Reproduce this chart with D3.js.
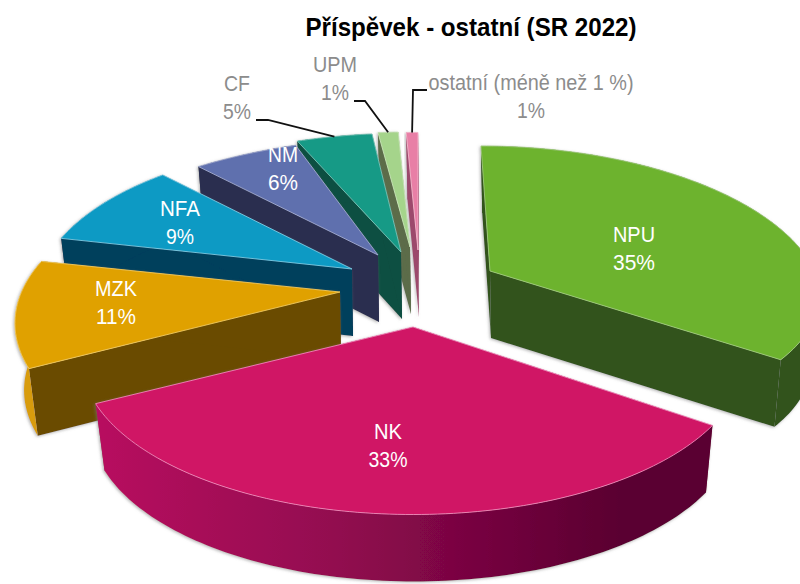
<!DOCTYPE html>
<html><head><meta charset="utf-8">
<script src="https://cdn.jsdelivr.net/npm/d3@7/dist/d3.min.js"></script>
<style>html,body{margin:0;padding:0;background:#fff}svg{display:block}text{font-family:"Liberation Sans",Arial,sans-serif}</style>
</head><body><svg id="c" width="800" height="584"></svg>
<script>
const chartTitle = "Příspěvek - ostatní (SR 2022)";
const categories = ["NPU","NK","MZK","NFA","NM","CF","UPM","ostatní (méně než 1 %)"];
const values = [35.2,32.8,11.2,9.4,6.0,4.5,1.2,0.7];
const topColors = ["#6db32f","#d01265","#e0a106","#0b9ac4","#5f6fae","#159a86","#a5d48b","#e87fa6"];
const wallColors = ["#31531a","#8a0a4b","#6a4c00","#053f5c","#2a2f50","#0b4f42","#5b6c49","#9c4a6c"];
const outerColors = ["#31531a","url(#nkWall)","#d89c08","#053f5c","#2a2f50","#0b4f42","#5b6c49","#9c4a6c"];
const edgeColors = ["#9fca7c","#ee8ab8","#eec860","#7fcbe2","#a4add0","#7cc4b8","#c8e4b8","#f4b8cc"];
// layout: screen position of each slice's tip after explosion, per-slice perspective tweaks, label placement
const tipX = [490,413,340,352,378,401,410,418];
const tipY = [271,327,292,269,255,252,247,250];
const shear = [9,0,0,0,-26,-3,0,0];
const xScale = [1,1,.98,.955,1,1,1,1];
const yScale = [1,1,1,1,.94,.95,.92,.94];
const nearX = [.05,0,0,0,0,0,0,0];
const nearY = [.17,0,0,0,0,0,0,0];
const labelX = [634,388,116,180,283,237,335,531];
const labelY = [248,445,302,222,168,97,78,96];
const labelW = [42,28,42,40,30,26,44,205];
const pctW = [42,39,40,28,30,28,28,28];
const labelFill = ["#fff","#fff","#fff","#fff","#fff","#8c8c8c","#8c8c8c","#8c8c8c"];
const leaderIdx = [5,6,7];
const leaderFrom = [[256,120],[354,101],[427,90]];
const leaderElbow = [[268,120],[365,101],[413,90]];

const RX = 325, KY = 150, P = 0.2, DEPTH = 67, BOTTOM_SCALE = 0.975;
const svg = d3.select("#c");
const defs = svg.append("defs");
const g = defs.append("linearGradient").attr("id","nkWall").attr("gradientUnits","userSpaceOnUse")
  .attr("x1",95).attr("x2",620).attr("y1",0).attr("y2",0);
g.append("stop").attr("offset",0).attr("stop-color","#b8115f");
g.append("stop").attr("offset",0.45).attr("stop-color","#930a50");
g.append("stop").attr("offset",1).attr("stop-color","#5a0030");
const f = defs.append("filter").attr("id","sh").attr("x","-10%").attr("y","-10%").attr("width","120%").attr("height","120%");
f.append("feDropShadow").attr("dx",-1).attr("dy",1).attr("stdDeviation",1.6).attr("flood-color","#777").attr("flood-opacity",0.55);

const pie = d3.pie().sort(null).startAngle(0).endAngle(2*Math.PI);
const arcs = pie(values);

function project(i, theta, r, bottom){
  const gx = r*Math.sin(theta), gy = -r*Math.cos(theta);
  const s = 1/(1 - P*gy);
  const near = Math.max(gy,0);
  let dx = (RX*gx*s*xScale[i] + shear[i]*Math.min(gy,0))*(1-nearX[i]*near);
  let dy = KY*gy*s*yScale[i]*(1-nearY[i]*near);
  if(bottom) return [tipX[i]+dx*BOTTOM_SCALE+1, tipY[i]+dy+DEPTH];
  return [tipX[i]+dx, tipY[i]+dy];
}
const line = d3.line();
function arcPts(i,a0,a1,bottom){
  const n = Math.max(4,Math.ceil((a1-a0)/0.02));
  return d3.range(n+1).map(k=>project(i,a0+(a1-a0)*k/n,1,bottom));
}
const order = [7,6,5,4,3,2,0,1];
const layer = svg.append("g");
order.forEach(i=>{
  const a = arcs[i], sl = layer.append("g").attr("filter","url(#sh)");
  const tipT = project(i,0,0,false), tipB = project(i,0,0,true);
  [a.startAngle,a.endAngle].forEach(t=>{
    sl.append("path").attr("d",line([tipT,project(i,t,1,false),project(i,t,1,true),tipB])+"Z")
      .attr("fill",wallColors[i]);
  });
  const top = arcPts(i,a.startAngle,a.endAngle,false);
  const bot = arcPts(i,a.startAngle,a.endAngle,true);
  sl.append("path").attr("d",line(top.concat(bot.slice().reverse()))+"Z").attr("fill",outerColors[i]);
  sl.append("path").attr("d",line([tipT].concat(top))+"Z").attr("fill",topColors[i])
    .attr("stroke",edgeColors[i]).attr("stroke-width",0.9).attr("stroke-linejoin","round");
});

// leaders
leaderIdx.forEach((i,k)=>{
  const a = arcs[i], end = project(i,(a.startAngle+a.endAngle)/2,1,false);
  svg.append("path").attr("d",line([leaderFrom[k],leaderElbow[k],end])).attr("fill","none")
    .attr("stroke","#111").attr("stroke-width",1.8);
});
// text
svg.append("text").attr("x",471).attr("y",36).attr("text-anchor","middle").attr("font-size",25)
  .attr("font-weight","bold").attr("fill","#000").attr("textLength",331).attr("lengthAdjust","spacingAndGlyphs").text(chartTitle);
categories.forEach((c,i)=>{
  const fs = 22;
  svg.append("text").attr("text-anchor","middle").attr("font-size",fs).attr("fill",labelFill[i])
    .attr("x",labelX[i]).attr("y",labelY[i]-6).attr("textLength",labelW[i]).attr("lengthAdjust","spacingAndGlyphs").text(c);
  svg.append("text").attr("text-anchor","middle").attr("font-size",fs).attr("fill",labelFill[i])
    .attr("x",labelX[i]).attr("y",labelY[i]+22).attr("textLength",pctW[i]).attr("lengthAdjust","spacingAndGlyphs")
    .text(d3.format(".0f")(values[i])+"%");
});
</script></body></html>
